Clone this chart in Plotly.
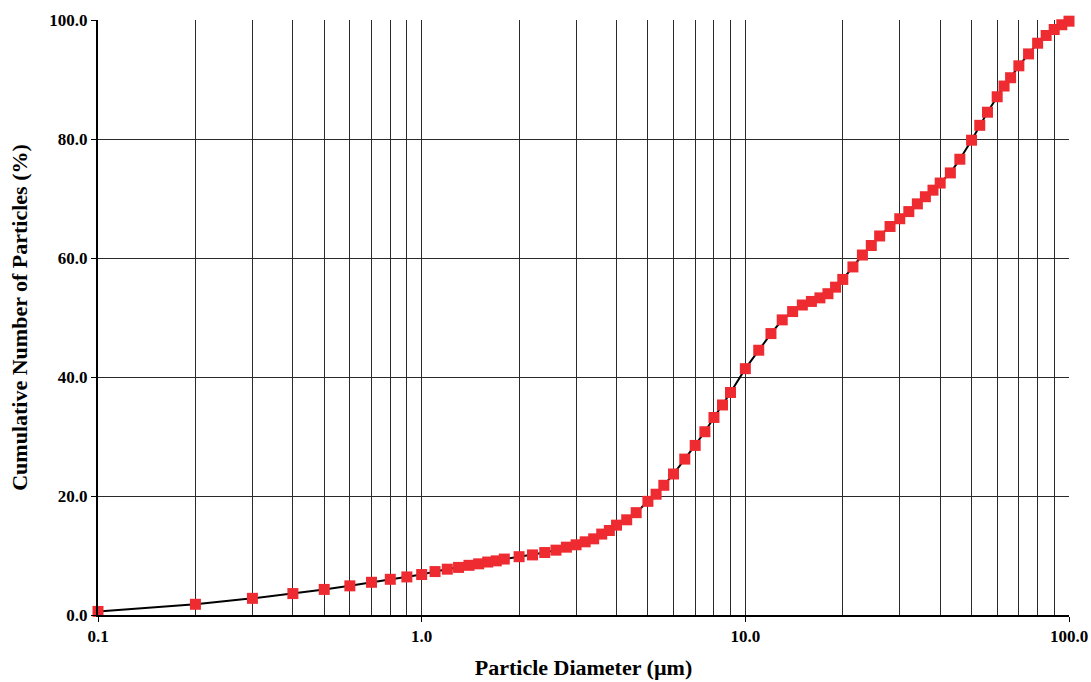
import plotly.graph_objects as go

diameter_um = [0.1, 0.2, 0.3, 0.4, 0.5, 0.6, 0.7, 0.8, 0.9, 1.0,
               1.1, 1.2, 1.3, 1.4, 1.5, 1.6, 1.7, 1.8, 2.0,
               2.2, 2.4, 2.6, 2.8, 3.0, 3.2, 3.4, 3.6, 3.8, 4.0,
               4.3, 4.6, 5.0, 5.3, 5.6, 6.0, 6.5, 7.0, 7.5, 8.0, 8.5, 9.0, 10.0,
               11, 12, 13, 14, 15, 16, 17, 18, 19, 20,
               21.5, 23, 24.5, 26, 28, 30, 32, 34, 36, 38, 40,
               43, 46, 50, 53, 56, 60, 63, 66, 70, 75, 80, 85, 90, 95, 100]
cumulative_pct = [0.6, 1.8, 2.8, 3.6, 4.3, 4.9, 5.5, 6.0, 6.4, 6.8,
                  7.3, 7.7, 8.0, 8.35, 8.6, 8.9, 9.1, 9.4, 9.8,
                  10.1, 10.5, 10.9, 11.4, 11.8, 12.3, 12.8, 13.6, 14.2, 15.1,
                  16.0, 17.2, 19.1, 20.3, 21.8, 23.7, 26.2, 28.5, 30.8, 33.2, 35.3, 37.4, 41.4,
                  44.5, 47.3, 49.6, 51.0, 52.1, 52.7, 53.3, 54.0, 55.1, 56.4,
                  58.5, 60.5, 62.1, 63.7, 65.3, 66.6, 67.8, 69.1, 70.3, 71.4, 72.6,
                  74.3, 76.6, 79.8, 82.3, 84.5, 87.1, 88.9, 90.3, 92.3, 94.3, 96.1, 97.4, 98.4, 99.2, 99.8]

x_major = [0.1, 1, 10, 100]
x_major_text = ["0.1", "1.0", "10.0", "100.0"]
x_minor = [0.2, 0.3, 0.4, 0.5, 0.6, 0.7, 0.8, 0.9,
           2, 3, 4, 5, 6, 7, 8, 9,
           20, 30, 40, 50, 60, 70, 80, 90]
y_major = [0, 20, 40, 60, 80, 100]
y_major_text = ["0.0", "20.0", "40.0", "60.0", "80.0", "100.0"]

font_family = "Liberation Serif"
grid_color = "#2a2a2a"

fig = go.Figure()
fig.add_trace(go.Scatter(
    x=diameter_um, y=cumulative_pct,
    mode="lines+markers",
    line=dict(color="black", width=2),
    marker=dict(symbol="square", size=11, color="#ee2b31", line=dict(width=0)),
    cliponaxis=False,
    showlegend=False,
))

fig.update_layout(
    width=1091, height=682,
    margin=dict(l=98, r=22, t=20, b=67),
    paper_bgcolor="white", plot_bgcolor="white",
    font=dict(family=font_family, color="black"),
    xaxis=dict(
        type="log", range=[-1, 2], automargin=False,
        tickvals=x_major, ticktext=x_major_text,
        ticks="outside", ticklen=5, tickcolor="black", tickwidth=1,
        tickfont=dict(family=font_family, size=17, color="black", weight="bold"),
        showgrid=True, gridcolor=grid_color, gridwidth=1,
        minor=dict(tickvals=x_minor, showgrid=True, gridcolor=grid_color, gridwidth=1, ticks=""),
        showline=True, linecolor="black", linewidth=2,
        zeroline=False,
        title=dict(text="Particle Diameter (µm)", font=dict(family=font_family, size=22, color="black", weight="bold"), standoff=14),
    ),
    yaxis=dict(
        range=[0, 100], automargin=False,
        tickvals=y_major, ticktext=y_major_text,
        ticks="outside", ticklen=5, tickcolor="black", tickwidth=1,
        tickfont=dict(family=font_family, size=17, color="black", weight="bold"),
        showgrid=True, gridcolor=grid_color, gridwidth=1,
        showline=True, linecolor="black", linewidth=2,
        zeroline=False,
        title=dict(text="Cumulative Number of Particles (%)", font=dict(family=font_family, size=22, color="black", weight="bold"), standoff=16),
    ),
)

fig.write_html("out.html")
